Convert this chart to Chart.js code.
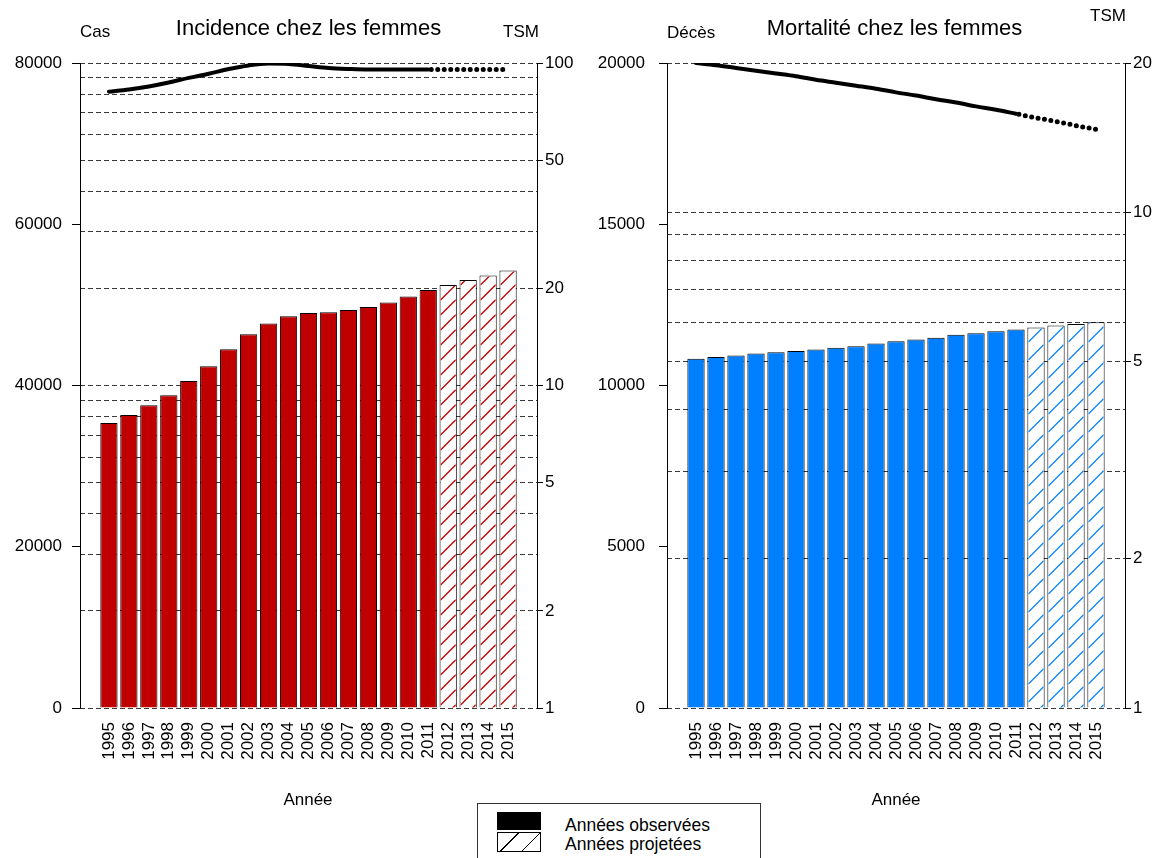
<!DOCTYPE html>
<html>
<head>
<meta charset="utf-8">
<script src="https://cdn.jsdelivr.net/npm/chart.js@4.4.1/dist/chart.umd.min.js"></script>
<style>
  body { margin: 0; background: #fff; width: 1155px; height: 858px; overflow: hidden; position: relative;
         font-family: "Liberation Sans", Arial, sans-serif; }
  #inc { position: absolute; left: 0; top: 0; }
  #mort { position: absolute; left: 590px; top: 0; }
  .legend { position: absolute; left: 477px; top: 803px; width: 284px; height: 70px; border: 1px solid #333;
            box-sizing: border-box; background: #fff; }
  .sw { position: absolute; left: 19px; width: 44px; box-sizing: border-box; }
  .solid { top: 8px; height: 18px; background: #000; }
  .hatch { top: 28px; height: 20px; border: 1px solid #000;
           background: repeating-linear-gradient(135deg, #fff 0 14px, #000 14px 15px); }
  .lt { position: absolute; left: 87px; font-size: 17.5px; line-height: 19px; color: #000; white-space: nowrap; }
</style>
</head>
<body>
<canvas id="inc" width="590" height="858"></canvas>
<canvas id="mort" width="565" height="858"></canvas>
<div class="legend">
  <div class="sw solid"></div>
  <div class="sw hatch"></div>
  <div class="lt" style="top:12px">Années observées</div>
  <div class="lt" style="top:31px">Années projetées</div>
</div>
<script>
// years
const obsYears = [1995, 1996, 1997, 1998, 1999, 2000, 2001, 2002, 2003, 2004, 2005, 2006, 2007, 2008, 2009, 2010, 2011];
const projYears = [2012, 2013, 2014, 2015];
const years = obsYears.concat(projYears);

// incidence (cases) + TSM
const incCases = [35350, 36350, 37550, 38800, 40550, 42400, 44500, 46350, 47700, 48600, 49000, 49100, 49350, 49750, 50300, 51050, 51850];
const incCasesProj = [52450, 53100, 53650, 54250];
const incTsm = [81.5, 82.8, 84.6, 87.0, 89.9, 92.6, 95.8, 98.3, 99.6, 99.3, 97.9, 96.5, 95.8, 95.4, 95.4, 95.4, 95.4];
const incTsmProj = [95.4, 95.4, 95.4, 95.4];

// mortality (deaths) + TSM
const mortDeaths = [10830, 10880, 10930, 10990, 11030, 11070, 11120, 11170, 11220, 11300, 11370, 11430, 11480, 11570, 11620, 11680, 11740];
const mortDeathsProj = [11800, 11860, 11910, 11960];
const mortTsm = [20.0, 19.8, 19.55, 19.3, 19.05, 18.8, 18.5, 18.25, 18.0, 17.75, 17.45, 17.2, 16.9, 16.65, 16.35, 16.1, 15.8];
const mortTsmProj = [15.5, 15.25, 14.95, 14.7];

// tick labels
const casTicks = [0, 20000, 40000, 60000, 80000];
const decesTicks = [0, 5000, 10000, 15000, 20000];
const incTsmTicks = [1, 2, 5, 10, 20, 50, 100];
const incTsmGrid = [1, 2, 3, 4, 5, 6, 7, 8, 9, 10, 20, 30, 40, 50, 60, 70, 80, 90, 100];
const mortTsmTicks = [1, 2, 5, 10, 20];
const mortTsmGrid = [1, 2, 3, 4, 5, 6, 7, 8, 9, 10, 20];

const FAMILY = '"Liberation Sans", Arial, sans-serif';

const textPlugin = {
  id: 'texts',
  afterDraw(chart, args, opts) {
    const ctx = chart.ctx;
    ctx.save();
    ctx.fillStyle = '#000';
    ctx.textBaseline = 'middle';
    opts.items.forEach(t => {
      ctx.font = t.size + 'px ' + FAMILY;
      ctx.textAlign = t.align || 'left';
      ctx.fillText(t.text, t.x, t.y);
    });
    ctx.restore();
  }
};

// diagonal hatching inside the projected bars
const hatchPlugin = {
  id: 'hatch',
  afterDatasetsDraw(chart, args, opts) {
    const meta = chart.getDatasetMeta(opts.dataset);
    const ctx = chart.ctx;
    const s = opts.step;
    meta.data.forEach(bar => {
      const left = bar.x - bar.width / 2 + 1, right = bar.x + bar.width / 2 - 1;
      const top = bar.y + 1, bottom = bar.base;
      const w = right - left;
      ctx.save();
      ctx.beginPath();
      ctx.rect(left, top, w, bottom - top);
      ctx.clip();
      ctx.strokeStyle = opts.color;
      ctx.lineWidth = 1.3;
      ctx.beginPath();
      for (let y0 = Math.floor(top / s) * s; y0 < bottom + w + s; y0 += s) {
        ctx.moveTo(left, y0);
        ctx.lineTo(right, y0 - w);
      }
      ctx.stroke();
      ctx.restore();
    });
  }
};

function points(xs, vs) {
  return xs.map((x, i) => ({ x: x, y: vs[i] }));
}

function drawPanel(id, o) {
  const canvas = document.getElementById(id);
  const W = canvas.width, H = canvas.height;
  const last = obsYears.length - 1;
  const font = { size: 17, family: FAMILY };
  const barStyle = { type: 'bar', yAxisID: 'y', borderColor: '#000', borderWidth: 1,
                     grouped: false, barPercentage: 0.865, categoryPercentage: 1 };
  new Chart(canvas, {
    plugins: [textPlugin, hatchPlugin],
    data: {
      datasets: [
        { type: 'line', yAxisID: 'tsm', data: points(obsYears, o.tsm), borderColor: '#000', borderWidth: 4,
          pointRadius: 0, cubicInterpolationMode: 'monotone', borderCapStyle: 'round' },
        { type: 'line', yAxisID: 'tsm', data: points([obsYears[last]].concat(projYears), [o.tsm[last]].concat(o.tsmProj)),
          borderColor: '#000', borderWidth: 5, borderDash: [0, 6.5], borderDashOffset: -3, borderCapStyle: 'round', pointRadius: 0 },
        Object.assign({ data: points(obsYears, o.obs), backgroundColor: o.color }, barStyle),
        Object.assign({ data: points(projYears, o.proj), backgroundColor: '#fff' }, barStyle)
      ]
    },
    options: {
      responsive: false,
      animation: false,
      layout: { padding: { top: 63 } },
      plugins: {
        legend: { display: false }, tooltip: { enabled: false },
        texts: { items: o.texts },
        hatch: { dataset: 3, color: o.color, step: o.step }
      },
      scales: {
        x: {
          type: 'linear', position: 'bottom', min: 1993.55, max: 2016.45, offset: false,
          afterBuildTicks: s => { s.ticks = years.map(value => ({ value })); },
          afterFit: s => { s.height = H - 708; },
          grid: { display: false, drawTicks: false },
          border: { display: false },
          ticks: { autoSkip: false, minRotation: 90, maxRotation: 90, padding: 14, color: '#000', font,
                   callback: v => String(v) }
        },
        y: {
          position: 'left', min: 0, max: o.yTicks[o.yTicks.length - 1],
          afterBuildTicks: s => { s.ticks = o.yTicks.map(value => ({ value })); },
          afterFit: s => { s.width = o.left; },
          grid: { drawOnChartArea: false, tickLength: 8, tickColor: '#000' },
          border: { color: '#000' },
          ticks: { padding: o.pad, color: '#000', font, callback: v => String(v) }
        },
        tsm: {
          type: 'logarithmic', position: 'right', min: 1, max: o.tsmTicks[o.tsmTicks.length - 1], z: 1,
          afterBuildTicks: s => { s.ticks = o.tsmGrid.map(value => ({ value })); },
          afterFit: s => { s.width = W - o.right; },
          grid: { color: '#3a3a3a', lineWidth: 1, tickLength: 6,
                  tickColor: c => o.tsmTicks.includes(c.tick.value) ? '#000' : 'rgba(0,0,0,0)' },
          border: { color: '#000', dash: [5, 3] },
          ticks: { padding: 2, color: '#000', font,
                   callback: v => o.tsmTicks.includes(v) ? String(v) : '' }
        }
      }
    }
  });
}

drawPanel('inc', {
  obs: incCases, proj: incCasesProj, tsm: incTsm, tsmProj: incTsmProj,
  yTicks: casTicks, tsmTicks: incTsmTicks, tsmGrid: incTsmGrid,
  color: '#C00000', step: 15, left: 80, right: 537, pad: 10,
  texts: [
    { text: 'Incidence chez les femmes', x: 308.5, y: 29, size: 22, align: 'center' },
    { text: 'Cas', x: 80, y: 32, size: 17 },
    { text: 'TSM', x: 503, y: 32, size: 17 },
    { text: 'Année', x: 308, y: 800, size: 17, align: 'center' }
  ]
});

drawPanel('mort', {
  obs: mortDeaths, proj: mortDeathsProj, tsm: mortTsm, tsmProj: mortTsmProj,
  yTicks: decesTicks, tsmTicks: mortTsmTicks, tsmGrid: mortTsmGrid,
  color: '#0080FF', step: 18, left: 77, right: 535, pad: 14,
  texts: [
    { text: 'Mortalité chez les femmes', x: 304.5, y: 29, size: 22, align: 'center' },
    { text: 'Décès', x: 77, y: 33, size: 17 },
    { text: 'TSM', x: 500, y: 16, size: 17 },
    { text: 'Année', x: 306, y: 800, size: 17, align: 'center' }
  ]
});
</script>
</body>
</html>
